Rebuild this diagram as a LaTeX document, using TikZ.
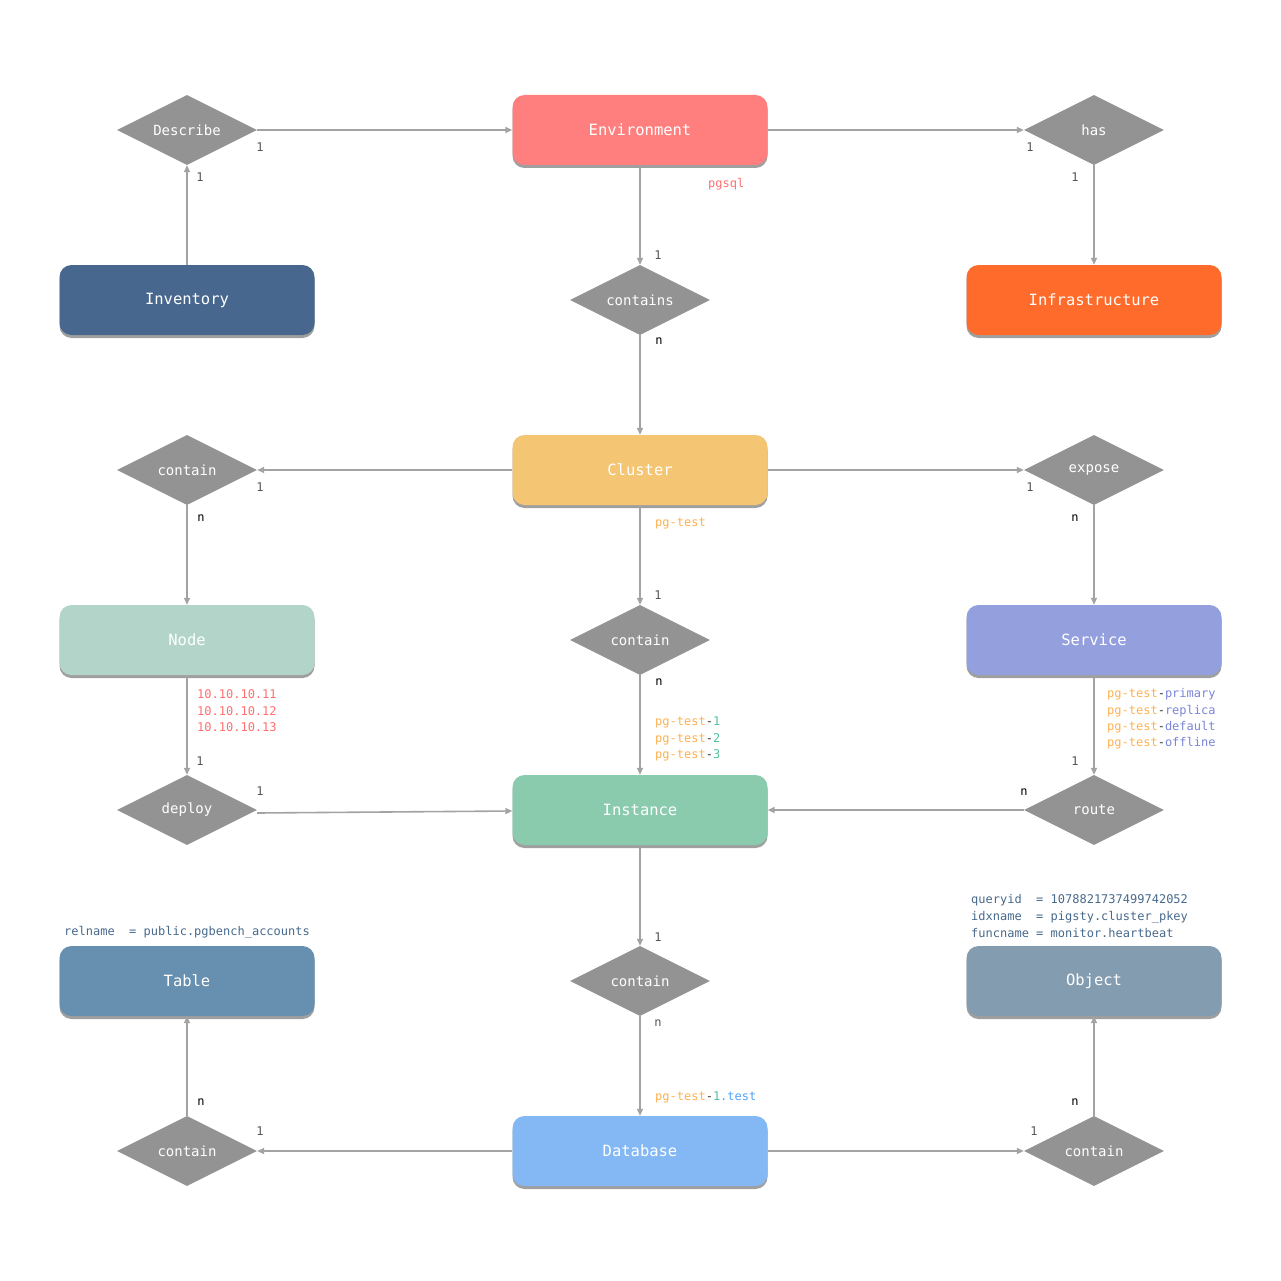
\documentclass[tikz,border=0pt]{standalone}
\usepackage{fontspec}
\setmainfont{DejaVu Sans Mono}
\usetikzlibrary{shapes.geometric,arrows.meta,shadows}
\definecolor{cEnv}{HTML}{FF7F7F}
\definecolor{cInv}{HTML}{48678F}
\definecolor{cInf}{HTML}{FF6B2B}
\definecolor{cClu}{HTML}{F4C572}
\definecolor{cNod}{HTML}{B3D5C9}
\definecolor{cSvc}{HTML}{949FDE}
\definecolor{cIns}{HTML}{8ACBAE}
\definecolor{cTab}{HTML}{678FAF}
\definecolor{cObj}{HTML}{849CB0}
\definecolor{cDb}{HTML}{84B8F5}
\definecolor{cDia}{HTML}{939393}
\definecolor{cLine}{HTML}{A3A3A3}
\definecolor{cLbl}{HTML}{555555}
\definecolor{cRed}{HTML}{FF6F6F}
\definecolor{cOr}{HTML}{FDB04E}
\definecolor{cGr}{HTML}{4FC39C}
\definecolor{cBl}{HTML}{7A84D8}
\definecolor{cSky}{HTML}{4FA3F7}
\definecolor{cDash}{HTML}{333333}
\definecolor{cMeta}{HTML}{47698C}
\begin{document}
\begin{tikzpicture}[x=1pt,y=-1pt,
  ent/.style={rounded corners=12pt, minimum width=255pt, minimum height=70pt,
    text=white, font=\fontsize{15.5}{18}\selectfont,
    drop shadow={shadow xshift=0pt,shadow yshift=-3pt,opacity=0.5,fill=black!75}},
  rel/.style={diamond, aspect=2, fill=cDia, minimum width=140pt, minimum height=70pt,
    inner sep=0pt, text=white, font=\fontsize{14}{16}\selectfont},
  conn/.style={draw=cLine, line width=1.6pt, -{Triangle[length=7pt,width=6pt]}},
  card/.style={font=\fontsize{12}{14}\selectfont, text=cLbl, inner sep=0pt},
  cardn/.style={font=\fontsize{12}{14}\selectfont, text=black, inner sep=0pt},
  note/.style={font=\fontsize{12}{14}\selectfont, anchor=west, inner sep=0pt}
]
\useasboundingbox (0,0) rectangle (1281,1281);
% entities
\node[ent, fill=cEnv] (env) at (640,130) {Environment};
\node[ent, fill=cInv] (inv) at (187,300) {Inventory};
\node[ent, fill=cInf] (inf) at (1094,300) {Infrastructure};
\node[ent, fill=cClu] (clu) at (640,470) {Cluster};
\node[ent, fill=cNod] (nod) at (187,640) {Node};
\node[ent, fill=cSvc] (svc) at (1094,640) {Service};
\node[ent, fill=cIns] (ins) at (640,810) {Instance};
\node[ent, fill=cTab] (tab) at (187,981) {Table};
\node[ent, fill=cObj] (obj) at (1094,981) {Object};
\node[ent, fill=cDb] (db) at (640,1151) {Database};
% relations
\node[rel] (desc) at (187,130) {Describe};
\node[rel] (has) at (1094,130) {has};
\node[rel] (cons) at (640,300) {contains};
\node[rel] (c1) at (187,470) {contain};
\node[rel] (exp) at (1094,470) {expose};
\node[rel] (c2) at (640,640) {contain};
\node[rel] (dep) at (187,810) {deploy};
\node[rel] (rt) at (1094,810) {route};
\node[rel] (c3) at (640,981) {contain};
\node[rel] (c4) at (187,1151) {contain};
\node[rel] (c5) at (1094,1151) {contain};
% connectors
\draw[conn] (inv.north) -- (desc.south);
\draw[conn] (desc.east) -- (env.west);
\draw[conn] (env.east) -- (has.west);
\draw[conn] (has.south) -- (inf.north);
\draw[conn] (env.south) -- (cons.north);
\draw[conn] (cons.south) -- (clu.north);
\draw[conn] (clu.west) -- (c1.east);
\draw[conn] (c1.south) -- (nod.north);
\draw[conn] (clu.east) -- (exp.west);
\draw[conn] (exp.south) -- (svc.north);
\draw[conn] (clu.south) -- (c2.north);
\draw[conn] (c2.south) -- (ins.north);
\draw[conn] (nod.south) -- (dep.north);
\draw[conn] ([yshift=-3pt]dep.east) -- ([yshift=-1pt]ins.west);
\draw[conn] (svc.south) -- (rt.north);
\draw[conn] (rt.west) -- (ins.east);
\draw[conn] (ins.south) -- (c3.north);
\draw[conn] (c3.south) -- (db.north);
\draw[conn] (db.west) -- (c4.east);
\draw[conn] (c4.north) -- (tab.south);
\draw[conn] (db.east) -- (c5.west);
\draw[conn] (c5.north) -- (obj.south);
% cardinalities
\node[card] (k1) at (200,177) {1};
\node[card] (k2) at (260,147) {1};
\node[card] (k3) at (1030,147) {1};
\node[card] (k4) at (1075,177) {1};
\node[card] (k5) at (658,255) {1};
\node[card] (k6) at (260,487) {1};
\node[card] (k7) at (1030,487) {1};
\node[card] (k8) at (658,595) {1};
\node[card] (k9) at (200,761) {1};
\node[card] (k10) at (260,791) {1};
\node[card] (k11) at (1075,761) {1};
\node[card] (k12) at (658,937) {1};
\node[card] (k13) at (260,1131) {1};
\node[card] (k14) at (1034,1131) {1};
\node[cardn] (n1) at (659,341) {n};
\node[cardn] (n2) at (201,518) {n};
\node[cardn] (n3) at (1075,518) {n};
\node[cardn] (n4) at (659,682) {n};
\node[cardn] (n5) at (1024,792) {n};
\node[cardn] (n6) at (201,1102) {n};
\node[cardn] (n7) at (1075,1102) {n};
\node[card] (n8) at (658,1023) {n};
% notes
\node[note, text=cRed] (t1) at (708,184) {pgsql};
\node[note, text=cOr] (t2) at (655,524) {pg-test};
\node[note, text=cRed] (ip1) at (197,694) {10.10.10.11};
\node[note, text=cRed] (ip2) at (197,711) {10.10.10.12};
\node[note, text=cRed] (ip3) at (197,727) {10.10.10.13};
\node[note] (i1) at (655,722) {\textcolor{cOr}{pg-test}\textcolor{cDash}{-}\textcolor{cGr}{1}};
\node[note] (i2) at (655,739) {\textcolor{cOr}{pg-test}\textcolor{cDash}{-}\textcolor{cGr}{2}};
\node[note] (i3) at (655,755) {\textcolor{cOr}{pg-test}\textcolor{cDash}{-}\textcolor{cGr}{3}};
\node[note] (s1) at (1107,694) {\textcolor{cOr}{pg-test}\textcolor{cDash}{-}\textcolor{cBl}{primary}};
\node[note] (s2) at (1107,711) {\textcolor{cOr}{pg-test}\textcolor{cDash}{-}\textcolor{cBl}{replica}};
\node[note] (s3) at (1107,727) {\textcolor{cOr}{pg-test}\textcolor{cDash}{-}\textcolor{cBl}{default}};
\node[note] (s4) at (1107,743) {\textcolor{cOr}{pg-test}\textcolor{cDash}{-}\textcolor{cBl}{offline}};
\node[note] (d1) at (655,1097) {\textcolor{cOr}{pg-test}\textcolor{cDash}{-}\textcolor{cGr}{1}\textcolor{cSky}{.test}};
\node[note, text=cMeta] (o1) at (971,900) {queryid\ \ = 1078821737499742052};
\node[note, text=cMeta] (o2) at (971,917) {idxname\ \ = pigsty.cluster\_pkey};
\node[note, text=cMeta] (o3) at (971,933) {funcname = monitor.heartbeat};
\node[note, text=cMeta] (r1) at (64,932) {relname\ \ = public.pgbench\_accounts};
\end{tikzpicture}
\end{document}
